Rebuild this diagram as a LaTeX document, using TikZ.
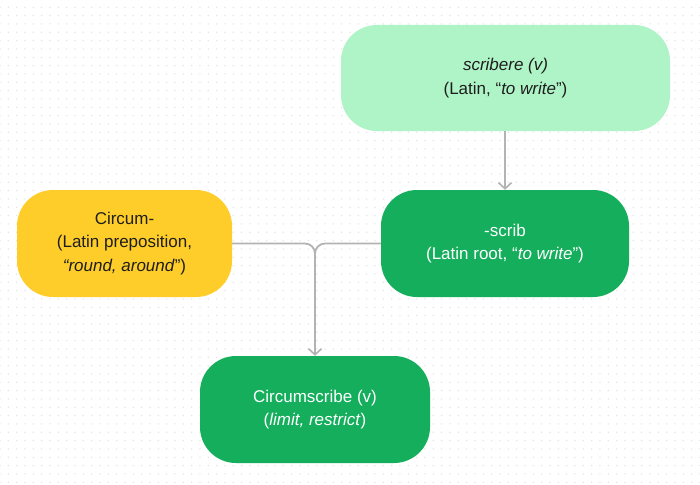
\documentclass[tikz,border=0pt]{standalone}
\usepackage{fontspec}
\setmainfont{Liberation Sans}
\usetikzlibrary{arrows.meta}
\definecolor{lightgreen}{HTML}{AFF4C6}
\definecolor{yellowc}{HTML}{FFCD29}
\definecolor{greenc}{HTML}{14AE5C}
\definecolor{textdark}{HTML}{1E1E1E}
\definecolor{linegray}{HTML}{B3B3B3}
\definecolor{dotgray}{HTML}{E2E2E2}
\tikzset{
  box/.style={draw=none, rounded corners=36pt, align=center, inner sep=0pt,
    font=\fontsize{17pt}{23.5pt}\selectfont},
  lightbox/.style={box, fill=lightgreen, text=textdark},
  yellowbox/.style={box, fill=yellowc, text=textdark},
  greenbox/.style={box, fill=greenc, text=white},
  conn/.style={draw=linegray, line width=1.8pt, rounded corners=10pt},
  arr/.style={-{Straight Barb[length=6pt,width=13pt,line width=1.6pt]}}
}
\begin{document}
\begin{tikzpicture}[x=1pt,y=-1pt]
\useasboundingbox (0,0) rectangle (700,484);
\fill[white] (0,0) rectangle (700,484);
\foreach \i in {0,...,84}{
  \foreach \j in {0,...,57}{
    \fill[dotgray] (\i*8.333,7.3+\j*8.333) circle (0.75pt);
  }
}
\node[lightbox, minimum width=329pt, minimum height=106pt] (scribere) at (505.5,78)
  {\textit{scribere (v)}\\(Latin, “\textit{to write}”)};
\node[yellowbox, minimum width=215pt, minimum height=107pt] (circum) at (124.5,243.5)
  {Circum-\\(Latin preposition,\\\textit{“round, around}”)};
\node[greenbox, minimum width=248pt, minimum height=107pt] (scrib) at (505,243.5)
  {-scrib\\(Latin root, “\textit{to write}”)};
\node[greenbox, minimum width=230pt, minimum height=107pt] (circumscribe) at (315,409.5)
  {Circumscribe (v)\\(\textit{limit, restrict})};
\coordinate (join) at (315,243.5);
\draw[conn, arr] (scribere.south -| scrib.north) -- (scrib.north);
\draw[conn] (circum.east) -- (join) -- ([yshift=-30pt]join);
\draw[conn, arr] (scrib.west) -- (join) -- (circumscribe.north);
\end{tikzpicture}
\end{document}
